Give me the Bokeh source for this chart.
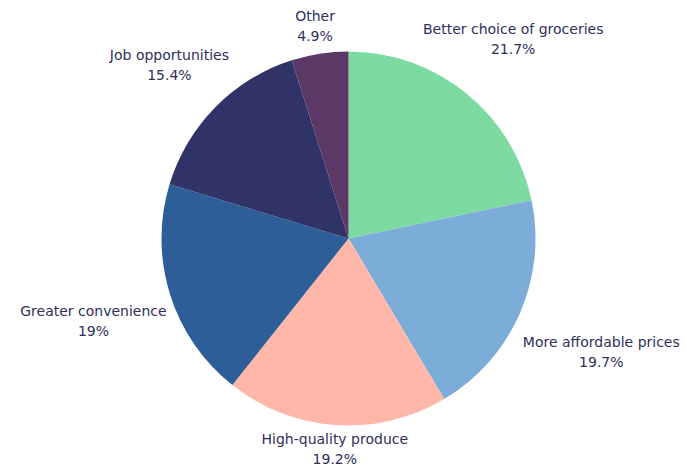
import math
from bokeh.plotting import figure
from bokeh.models import Range1d, ColumnDataSource
from bokeh.core.properties import value
from bokeh.embed import file_html
from bokeh.resources import INLINE

categories = ["Better choice of groceries", "More affordable prices", "High-quality produce",
              "Greater convenience", "Job opportunities", "Other"]
values = [21.7, 19.7, 19.2, 19.0, 15.4, 4.9]
pct_labels = ["21.7%", "19.7%", "19.2%", "19%", "15.4%", "4.9%"]
colors = ["#7ddba1", "#7badd8", "#ffb7aa", "#2d5e97", "#2f3367", "#5c3866"]

W, H = 687, 470
CX, CY, R = 348, 232, 187  # figure-pixel units, y up
FONT = "DejaVu Sans"
FS = 14
TXT = "#2e2f5a"

total = sum(values)
starts, ends, mids = [], [], []
a = math.pi / 2
for v in values:
    da = 2 * math.pi * v / total
    starts.append(a)
    ends.append(a - da)
    mids.append(a - da / 2)
    a -= da

p = figure(width=W, height=H, output_backend="svg", toolbar_location=None,
           x_range=Range1d(0, W), y_range=Range1d(0, H), min_border=0,
           outline_line_color=None)
p.axis.visible = False
p.grid.visible = False
p.background_fill_color = "white"

src = ColumnDataSource(dict(x=[CX] * len(values), y=[CY] * len(values),
                            s=starts, e=ends, c=colors))
p.wedge(x="x", y="y", radius=R, start_angle="s", end_angle="e", direction="clock",
        fill_color="c", line_color=None, source=src)

# label placement: block centre along mid angle, nearest box corner at R+9
RL = R + 9
char_w = 7.2
line_h = 20
lx, ly1, ly2 = [], [], []
for cat, m in zip(categories, mids):
    ux, uy = math.cos(m), math.sin(m)
    hw = len(cat) * char_w / 2
    hh = line_h
    b = abs(ux) * hw + abs(uy) * hh
    d = b + math.sqrt(b * b - (hw * hw + hh * hh - RL * RL))
    cx, cy = CX + d * ux, CY + d * uy
    lx.append(cx)
    ly1.append(cy + line_h / 2)
    ly2.append(cy - line_h / 2)

lsrc = ColumnDataSource(dict(x=lx, y1=ly1, y2=ly2, t1=categories, t2=pct_labels))
p.text(x="x", y="y1", text="t1", source=lsrc, text_align="center", text_baseline="middle",
       y_offset=3, text_font=value(FONT), text_font_size=f"{FS}px", text_color=TXT)
p.text(x="x", y="y2", text="t2", source=lsrc, text_align="center", text_baseline="middle",
       y_offset=3, text_font=value(FONT), text_font_size=f"{FS}px", text_color=TXT)

open("out.html", "w").write(file_html(p, INLINE))
